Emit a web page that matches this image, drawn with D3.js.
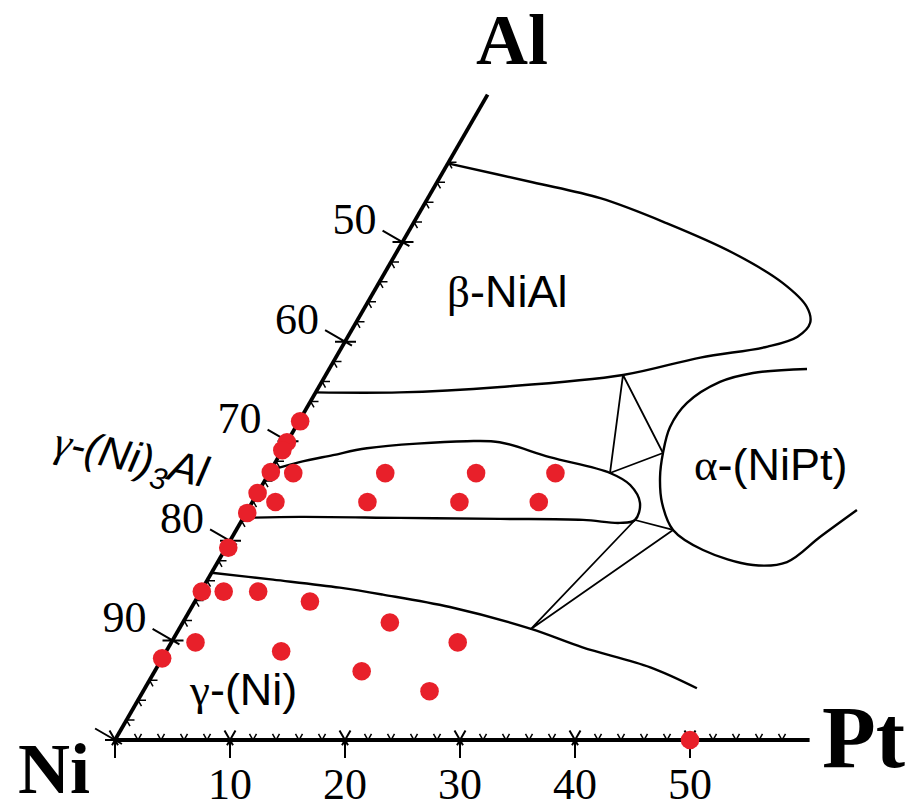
<!DOCTYPE html>
<html>
<head>
<meta charset="utf-8">
<script src="https://cdn.jsdelivr.net/npm/d3@7"></script>
<style>
  body { margin: 0; background: #fff; }
  svg { display: block; }
  .serif { font-family: "Liberation Serif", "Times New Roman", serif; }
  .sans { font-family: "Liberation Sans", Arial, sans-serif; }
</style>
</head>
<body>
<div id="chart"></div>
<script>
// all compositions are [Pt, Al] in at.% (Ni = balance)
const ptTicks = [10, 20, 30, 40, 50];
const niTicks = [90, 80, 70, 60, 50];
const minorSteps = d3.range(2, 60, 2).filter((d) => d % 10 !== 0);

const samples = [
  [0.1, 32.0], [0, 29.9], [0, 29.1], [0.1, 26.9], [2.1, 26.8], [0, 24.8],
  [2.0, 23.9], [0.1, 22.8], [0.2, 19.3], [10.1, 26.8], [18.0, 26.8],
  [24.9, 26.8], [10.0, 23.9], [18.0, 23.9], [24.9, 23.9], [0.1, 14.9],
  [2.0, 14.9], [5.0, 14.9], [10.0, 13.9], [18.0, 11.8], [24.9, 9.8],
  [2.1, 9.8], [0, 8.2], [10.0, 8.9], [18.0, 6.9], [24.9, 4.9], [50, 0]
];

const betaNiAl = [
  [0, 57.9], [8.3, 56.0], [15.0, 54.4], [22.0, 51.9], [29.3, 48.9],
  [35.1, 45.9], [38.4, 43.5], [39.5, 41.9], [39.1, 40.5], [37.0, 39.5],
  [31.7, 38.4], [25.85, 36.65], [15.8, 35.45], [7.3, 34.9], [0, 34.9]
];

const gammaPrime = [
  [0, 27.1], [2.1, 27.9], [4.65, 28.6], [7.25, 29.3], [15.6, 30.0],
  [18.5, 29.9], [23.6, 28.4], [29.64, 26.81], [32.0, 25.6], [33.75, 23.8],
  [34.17, 22.09], [33.0, 21.8], [29.65, 22.1], [22.4, 22.2], [13.6, 22.3],
  [4.9, 22.4], [0, 22.3]
];

const alphaNiPt = [
  [41.55, 37.25], [37.05, 36.85], [34.63, 35.95], [32.82, 33.84],
  [32.55, 31.43], [33.24, 28.82], [34.19, 26.41], [35.67, 23.8],
  [37.98, 21.09], [41.59, 19.08], [46.69, 17.57], [49.5, 17.87],
  [51.11, 20.38], [52.97, 23.09]
];

const gammaNi = [
  [0, 16.8], [5.7, 16.1], [11.9, 15.3], [16.0, 14.6], [22.45, 13.35],
  [30.6, 11.15], [36.0, 9.3], [42.9, 7.3], [48.0, 5.2]
];

const tieTriangles = [
  [[25.85, 36.65], [29.64, 26.81], [33.24, 28.82]],
  [[34.17, 22.09], [37.98, 21.09], [30.6, 11.15]]
];

const axisEnds = { pt: 60.4, al: 64.8 };

const width = 917, height = 810;

const svg = d3
  .select("#chart")
  .append("svg")
  .attr("width", width)
  .attr("height", height);

// triangular projection: x follows Pt + Al/2, y follows Al
const xScale = d3.scaleLinear().domain([0, 60]).range([115, 805]);
const yScale = d3.scaleLinear().domain([0, 60]).range([740, 740 - 690 * Math.sqrt(3) / 2]);
const pos = (d) => [xScale(d[0] + d[1] / 2), yScale(d[1])];

const curve = d3.line()
  .x((d) => pos(d)[0])
  .y((d) => pos(d)[1])
  .curve(d3.curveCatmullRom.alpha(0.5));

const straight = d3.line()
  .x((d) => pos(d)[0])
  .y((d) => pos(d)[1]);

// phase boundaries
svg
  .selectAll("path.boundary")
  .data([betaNiAl, gammaPrime, alphaNiPt, gammaNi])
  .enter()
  .append("path")
  .attr("class", "boundary")
  .attr("d", curve)
  .attr("fill", "none")
  .attr("stroke", "#000")
  .attr("stroke-width", 2.4);

svg
  .selectAll("path.tie")
  .data(tieTriangles)
  .enter()
  .append("path")
  .attr("class", "tie")
  .attr("d", (d) => straight(d) + "Z")
  .attr("fill", "none")
  .attr("stroke", "#000")
  .attr("stroke-width", 1.8)
  .attr("stroke-linejoin", "round");

// axes
const axes = svg.append("g").attr("stroke", "#000").attr("fill", "none");
axes.append("path")
  .attr("d", straight([[0, 0], [axisEnds.pt, 0]]))
  .attr("stroke-width", 3.8);
axes.append("path")
  .attr("d", straight([[0, 0], [0, axisEnds.al]]))
  .attr("stroke-width", 3.8);

const c60 = 0.5, s60 = Math.sqrt(3) / 2;
const seg = (x1, y1, x2, y2) => `M${x1},${y1}L${x2},${y2}`;

// bottom axis ticks (Pt)
minorSteps.forEach((p) => {
  const [x, y] = pos([p, 0]);
  axes.append("path")
    .attr("d", seg(x - 7 * c60, y - 7 * s60, x, y) + seg(x, y, x + 7 * c60, y - 7 * s60))
    .attr("stroke-width", 1.5);
});
[0, ...ptTicks].forEach((p) => {
  const [x, y] = pos([p, 0]);
  axes.append("path")
    .attr("d",
      seg(x - 11 * c60, y - 11 * s60, x + 6 * c60, y + 6 * s60) +
      seg(x + 11 * c60, y - 11 * s60, x - 6 * c60, y + 6 * s60) +
      seg(x, y, x, y + 18))
    .attr("stroke-width", 2);
});

// left axis ticks (Al side, labelled with Ni)
minorSteps.forEach((a) => {
  const [x, y] = pos([0, a]);
  axes.append("path")
    .attr("d", seg(x, y, x + 8, y) + seg(x, y, x + 7 * c60, y + 7 * s60))
    .attr("stroke-width", 1.5);
});
[0, ...niTicks.map((n) => 100 - n)].forEach((a) => {
  const [x, y] = pos([0, a]);
  axes.append("path")
    .attr("d",
      seg(x - 23 * s60, y - 23 * c60, x + 8 * s60, y + 8 * c60) +
      seg(x - 10, y, x + 11, y))
    .attr("stroke-width", 2);
});

// tick labels
svg
  .selectAll("text.ptlab")
  .data(ptTicks)
  .enter()
  .append("text")
  .attr("class", "ptlab serif")
  .attr("x", (d) => pos([d, 0])[0])
  .attr("y", 799)
  .attr("text-anchor", "middle")
  .style("font-size", "44px")
  .text((d) => d);

svg
  .selectAll("text.nilab")
  .data(niTicks)
  .enter()
  .append("text")
  .attr("class", "nilab serif")
  .attr("x", (d) => pos([0, 100 - d])[0] - 26)
  .attr("y", (d) => pos([0, 100 - d])[1] - 8)
  .attr("text-anchor", "end")
  .style("font-size", "44px")
  .text((d) => d);

// corner element labels
const corner = (txt, x, y, size) =>
  svg.append("text")
    .attr("class", "serif")
    .attr("x", x)
    .attr("y", y)
    .style("font-size", size + "px")
    .style("font-weight", "bold")
    .text(txt);
corner("Al", 476, 64, 72);
corner("Ni", 18, 793, 72);
corner("Pt", 822, 767, 88);

// red sample points
svg
  .selectAll("circle")
  .data(samples)
  .enter()
  .append("circle")
  .attr("cx", (d) => pos(d)[0])
  .attr("cy", (d) => pos(d)[1])
  .attr("r", 9.3)
  .attr("fill", "#e8202a");

// phase labels
function phaseLabel(greek, rest, x, y) {
  const t = svg.append("text")
    .attr("x", x)
    .attr("y", y)
    .style("font-size", "45px");
  t.append("tspan").attr("class", "serif").text(greek);
  t.append("tspan").attr("class", "sans").text(rest);
  return t;
}
phaseLabel("β", "-NiAl", 447, 307);
phaseLabel("α", "-(NiPt)", 694, 480);
phaseLabel("γ", "-(Ni)", 190, 705);

const g3 = svg.append("text")
  .attr("transform", "translate(52,455) rotate(12)")
  .style("font-size", "43px")
  .style("font-style", "italic");
g3.append("tspan").attr("class", "serif").text("γ");
g3.append("tspan").attr("class", "sans").text("-(Ni)");
g3.append("tspan").attr("class", "sans").attr("dy", 11).style("font-size", "30px").text("3");
g3.append("tspan").attr("class", "sans").attr("dy", -11).text("Al");
</script>
</body>
</html>
